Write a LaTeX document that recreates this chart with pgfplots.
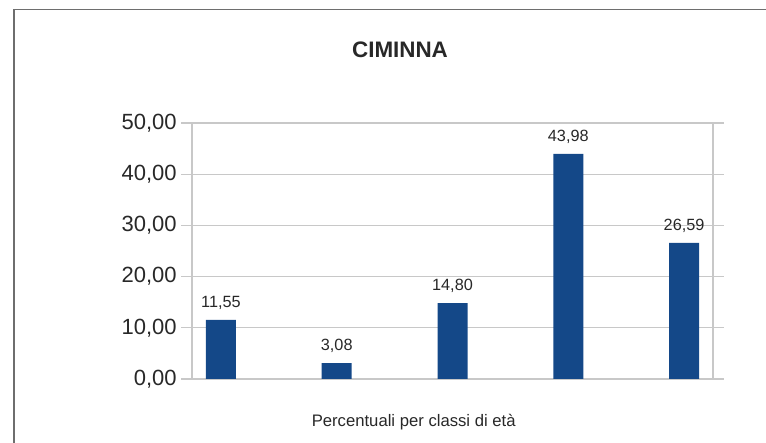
\documentclass[border=0pt]{standalone}
\usepackage{pgfplots}
\pgfplotsset{compat=1.18}
\usepackage{fontspec}
\setmainfont{Liberation Sans}
\definecolor{barblue}{RGB}{20,72,136}
\definecolor{txt}{RGB}{40,40,40}
\definecolor{gridc}{RGB}{200,200,200}
\definecolor{framec}{RGB}{110,110,110}
\begin{document}
\begin{tikzpicture}
\begin{scope}[x=0.75pt,y=0.75pt]
\path[use as bounding box] (0,0) rectangle (766,442);
\draw[framec, line width=0.9pt] (14,-20) |- (790,432.7);
\node[anchor=base, font=\fontsize{16.8}{20}\selectfont\bfseries, text=txt, inner sep=0pt] at (400,384) {CIMINNA};
\node[anchor=base, font=\fontsize{12.5}{15}\selectfont, text=txt, inner sep=0pt] at (413.7,16) {Percentuali per classi di età};
\end{scope}
\begin{axis}[
  at={(144pt,47.25pt)}, anchor=south west,
  scale only axis, width=390.75pt, height=192pt,
  xmin=-0.25, xmax=4.25, ymin=0, ymax=50,
  ytick={0,10,20,30,40,50},
  xtick=\empty,
  ymajorgrids, grid style={gridc, line width=0.8pt},
  axis line style={gridc, line width=0.8pt},
  ytick style={gridc, line width=0.8pt},
  tick align=outside, major tick length=8pt,
  /pgf/number format/assume math mode=true,
  /pgf/number format/fixed,
  /pgf/number format/fixed zerofill,
  /pgf/number format/precision=2,
  /pgf/number format/use comma,
  yticklabel style={font=\fontsize{16.5}{18}\selectfont, text=txt},
  ybar, bar width=22.5pt,
  nodes near coords,
  nodes near coords style={font=\fontsize{12.2}{14}\selectfont, text=txt},
  every node near coord/.append style={anchor=base, yshift=9.5pt, inner sep=0pt},
]
\addplot[fill=barblue, draw=none] coordinates {(0,11.55) (1,3.08) (2,14.80) (3,43.98) (4,26.59)};
\end{axis}
\end{tikzpicture}
\end{document}
